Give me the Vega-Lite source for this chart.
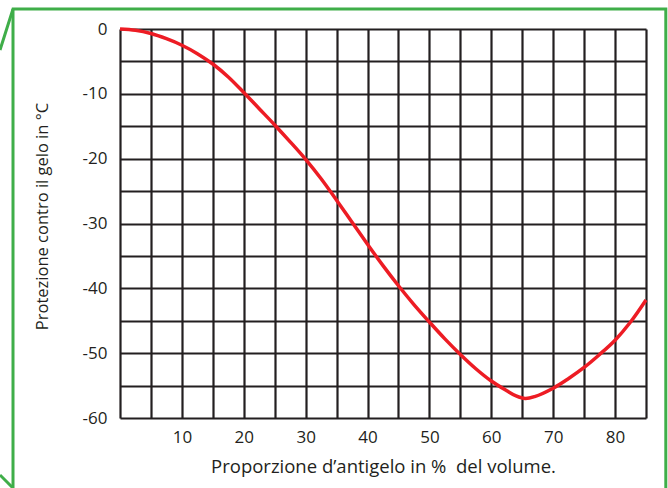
{
  "$schema": "https://vega.github.io/schema/vega-lite/v6.json",
  "width": 526,
  "height": 389,
  "autosize": {"type": "none"},
  "padding": {"left": 120, "top": 29, "right": 22, "bottom": 70},
  "background": "white",
  "config": {
    "view": {"stroke": null},
    "font": "Open Sans",
    "axis": {
      "labelFont": "Open Sans",
      "titleFont": "Open Sans",
      "labelFontSize": 17,
      "titleFontWeight": "normal",
      "labelColor": "#231f20",
      "titleColor": "#231f20",
      "ticks": false,
      "domain": false,
      "grid": true,
      "gridColor": "#231f20",
      "gridWidth": 2.2,
      "gridOpacity": 1,
      "tickCount": 100,
      "labelOverlap": false
    }
  },
  "datasets": {
    "curve": [
      {"pct": 0, "temp": 0},
      {"pct": 2.5, "temp": -0.2},
      {"pct": 5, "temp": -0.7},
      {"pct": 7.5, "temp": -1.5},
      {"pct": 10, "temp": -2.5},
      {"pct": 12.5, "temp": -3.8},
      {"pct": 15, "temp": -5.4},
      {"pct": 17.5, "temp": -7.4},
      {"pct": 20, "temp": -9.8},
      {"pct": 22.5, "temp": -12.3},
      {"pct": 25, "temp": -14.8},
      {"pct": 27.5, "temp": -17.4},
      {"pct": 30, "temp": -20.1},
      {"pct": 32.5, "temp": -23.1},
      {"pct": 35, "temp": -26.4},
      {"pct": 37.5, "temp": -29.8},
      {"pct": 40, "temp": -33.2},
      {"pct": 42.5, "temp": -36.5},
      {"pct": 45, "temp": -39.6},
      {"pct": 47.5, "temp": -42.5},
      {"pct": 50, "temp": -45.2},
      {"pct": 52.5, "temp": -47.8},
      {"pct": 55, "temp": -50.2},
      {"pct": 57.5, "temp": -52.4},
      {"pct": 60, "temp": -54.3},
      {"pct": 62.5, "temp": -55.8},
      {"pct": 64, "temp": -56.6},
      {"pct": 65.5, "temp": -57.0},
      {"pct": 67, "temp": -56.7},
      {"pct": 70, "temp": -55.4},
      {"pct": 72.5, "temp": -53.9},
      {"pct": 75, "temp": -52.2},
      {"pct": 77.5, "temp": -50.2},
      {"pct": 80, "temp": -48.0},
      {"pct": 82.5, "temp": -45.2},
      {"pct": 85, "temp": -41.8}
    ],
    "frame": [
      {"seg": "a", "fx": -19.39, "fy": -3.24},
      {"seg": "a", "fx": -17.29, "fy": 3.08},
      {"seg": "a", "fx": 88.2, "fy": 3.08},
      {"seg": "a", "fx": 88.2, "fy": -70.8},
      {"seg": "b", "fx": -17.29, "fy": 3.08},
      {"seg": "b", "fx": -17.29, "fy": -70.8},
      {"seg": "c", "fx": -19.39, "fy": -68.79},
      {"seg": "c", "fx": -17.29, "fy": -70.8}
    ]
  },
  "layer": [
    {
      "data": {"name": "curve"},
      "mark": {"type": "line", "color": "#ed1c24", "strokeWidth": 3.5, "interpolate": "catmull-rom"},
      "encoding": {
        "x": {
          "field": "pct",
          "type": "quantitative",
          "scale": {"domain": [0, 85], "nice": false, "zero": false},
          "axis": {
            "values": [0, 5, 10, 15, 20, 25, 30, 35, 40, 45, 50, 55, 60, 65, 70, 75, 80, 85],
            "labelExpr": "datum.value % 10 === 0 && datum.value > 0 ? '' + datum.value : ''",
            "labelPadding": 11,
            "title": "Proporzione d’antigelo in %\u00a0 del volume.",
            "titleFontSize": 18.5,
            "titlePadding": 12
          }
        },
        "y": {
          "field": "temp",
          "type": "quantitative",
          "scale": {"domain": [-60, 0], "nice": false, "zero": false},
          "axis": {
            "values": [0, -5, -10, -15, -20, -25, -30, -35, -40, -45, -50, -55, -60],
            "labelExpr": "datum.value % 10 === 0 ? '' + datum.value : ''",
            "labelPadding": 13,
            "title": "Protezione contro il gelo in °C",
            "titleFontSize": 16.5,
            "titlePadding": 32,
            "titleY": 187
          }
        }
      }
    },
    {
      "data": {"name": "frame"},
      "mark": {"type": "line", "color": "#3fae49", "strokeWidth": 3, "clip": false},
      "encoding": {
        "x": {"field": "fx", "type": "quantitative"},
        "y": {"field": "fy", "type": "quantitative"},
        "detail": {"field": "seg"},
        "order": {"value": null}
      }
    }
  ]
}
